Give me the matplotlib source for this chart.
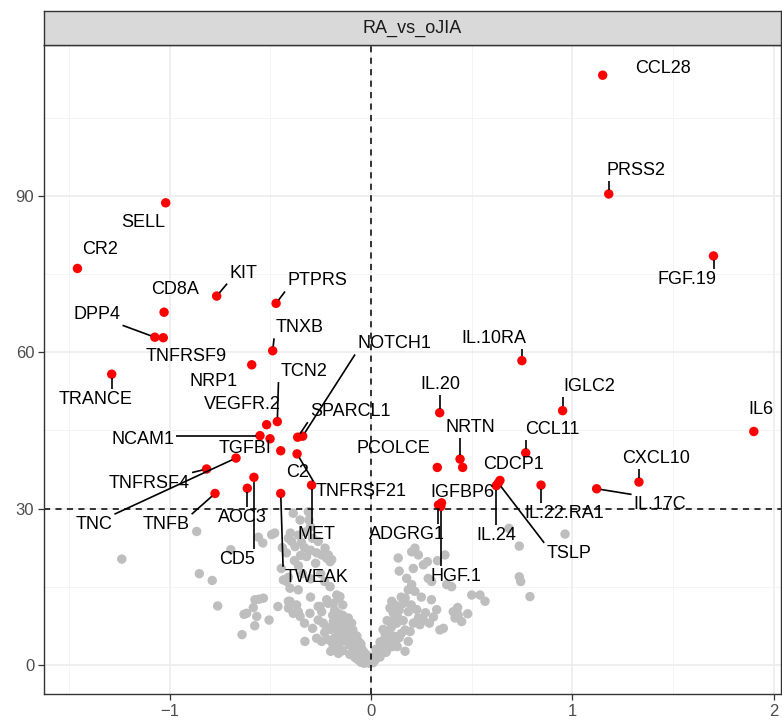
import matplotlib
matplotlib.use("Agg")
import matplotlib.pyplot as plt
import numpy as np

plt.rcParams['font.family'] = ['Liberation Sans', 'DejaVu Sans']

# ---- data -------------------------------------------------------------
facet_title = "RA_vs_oJIA"
fc_cut = 0.0
p_cut = 30.0

# non-significant proteins (logFC, -log10 p)
gray_x = [
    -1.237, -0.865, -0.852, -0.788, -0.761, -0.696, -0.630, -0.584, -0.556, -0.577,
    -0.640, -0.506, -0.462, -0.559, -0.537, -0.493, -0.478, -0.418, -0.410, -0.617,
    -0.567, -0.576, -0.534,
    -0.386, -0.352, -0.311, -0.308, -0.300, -0.410, -0.394, -0.377, -0.400, -0.360,
    -0.345, -0.330, -0.325, -0.290, -0.262, -0.245, -0.228, -0.212, -0.195, -0.275,
    -0.445, -0.410, -0.435, -0.402, -0.220, -0.203,
    -0.380, -0.350, -0.320, -0.300, -0.270, -0.360, -0.340, -0.300, -0.250, -0.230,
    -0.420, -0.440,
    -0.361, -0.203, -0.170, -0.162, -0.402, -0.369, -0.361, -0.262, -0.245, -0.262,
    -0.237, -0.328, -0.270, -0.245, -0.212, -0.187, -0.170, -0.162, -0.137, -0.120,
    -0.113, -0.096, -0.300, -0.220, -0.140, -0.330, -0.290, -0.386, -0.352, -0.303,
    -0.253, -0.212, -0.154, -0.187, -0.410,
    -0.150, -0.130, -0.120, -0.110, -0.100, -0.090, -0.085, -0.075, -0.070, -0.060,
    -0.055, -0.045, -0.040, -0.030, -0.025, -0.020, -0.012, -0.008, -0.170, -0.162,
    -0.140, -0.105, -0.080, -0.065, -0.050, -0.035, -0.095, -0.075, -0.060,
    -0.190, -0.180, -0.160, -0.150, -0.140, -0.130, -0.125, -0.115, -0.105, -0.100,
    -0.090, -0.080, -0.070, -0.065, -0.050, -0.045, -0.035, -0.020, -0.015, -0.190,
    -0.180, -0.155, -0.200, -0.220, -0.230, -0.200,
    0.003, 0.010, 0.020, 0.028, 0.036, 0.045, 0.053, 0.061, 0.069, 0.075,
    0.086, 0.090, 0.094, 0.103, 0.111, 0.119, 0.128, 0.135, 0.100, 0.115,
    0.130, 0.150, 0.169, 0.194, 0.185, 0.169, 0.060, 0.080, 0.040, 0.110,
    0.015, 0.025, 0.045, 0.050, 0.065, 0.070, 0.080, 0.095, 0.105, 0.120,
    0.140, 0.120, 0.140, 0.160, 0.170, 0.200, 0.210, 0.270, 0.290, 0.310,
    0.185, 0.227, 0.235, 0.260, 0.243, 0.326, 0.342, 0.359, 0.408, 0.417,
    0.433, 0.450, 0.177, 0.202, 0.185, 0.218, 0.284, 0.301, 0.376, 0.400,
    0.218, 0.235, 0.202, 0.135, 0.260, 0.367, 0.150, 0.160, 0.300, 0.250,
    0.140, 0.210, 0.280, 0.330,
    0.500, 0.541, 0.566, 0.685, 0.736, 0.963, 0.736, 0.743, 0.789, 0.430,
    0.480,
]
gray_y = [
    20.3, 25.6, 17.5, 16.2, 11.3, 22.1, 9.7, 11.0, 12.6, 7.5,
    5.8, 8.6, 11.2, 24.5, 23.4, 25.0, 25.3, 16.0, 12.2, 9.9,
    9.3, 12.5, 12.8,
    29.1, 27.8, 29.4, 27.8, 26.5, 24.3, 23.7, 22.7, 25.3, 24.9,
    23.5, 22.5, 25.5, 24.3, 23.7, 21.1, 22.4, 21.1, 20.2, 19.5,
    18.5, 16.8, 16.3, 14.7, 20.5, 19.8,
    20.0, 21.0, 20.8, 22.0, 21.5, 19.0, 17.5, 16.5, 17.5, 16.0,
    21.5, 22.5,
    14.4, 15.0, 13.4, 12.8, 12.2, 11.5, 10.2, 11.2, 10.2, 8.6,
    8.0, 4.5, 5.1, 4.5, 4.8, 8.3, 7.4, 6.4, 7.0, 8.3,
    9.0, 8.0, 13.0, 12.5, 11.5, 8.0, 7.0, 9.9, 9.3, 9.9,
    11.2, 11.8, 13.1, 11.8, 10.9,
    5.5, 4.8, 5.8, 3.9, 4.6, 3.2, 5.0, 2.8, 3.9, 2.2,
    3.3, 1.6, 2.6, 1.2, 2.0, 0.7, 1.2, 0.3, 3.2, 2.2,
    2.7, 2.0, 1.4, 1.0, 0.5, 0.3, 6.2, 5.6, 4.4,
    9.5, 10.5, 9.8, 8.8, 9.5, 8.4, 6.6, 7.5, 6.9, 5.8,
    6.7, 4.8, 5.5, 3.6, 4.0, 3.0, 2.4, 1.7, 0.9, 4.0,
    5.2, 4.2, 6.8, 7.2, 6.2, 2.6,
    1.3, 0.4, 0.9, 1.9, 2.6, 1.5, 3.8, 3.2, 5.1, 2.4,
    6.4, 4.2, 10.9, 12.2, 9.9, 11.5, 8.0, 9.0, 7.2, 5.5,
    3.5, 6.0, 6.7, 6.4, 4.5, 2.6, 6.8, 8.5, 3.0, 7.8,
    1.6, 3.0, 4.4, 2.2, 4.0, 6.0, 3.0, 5.0, 3.5, 4.6,
    5.2, 9.0, 10.5, 8.5, 12.8, 11.5, 8.0, 10.0, 8.0, 9.2,
    10.2, 10.6, 9.0, 8.6, 7.7, 10.6, 6.7, 7.0, 10.2, 9.0,
    9.6, 8.3, 16.6, 15.4, 14.4, 14.1, 16.6, 16.0, 15.4, 15.0,
    22.4, 21.1, 21.7, 20.5, 19.2, 21.1, 13.0, 11.8, 12.5, 13.0,
    18.0, 18.5, 19.8, 20.0,
    13.4, 13.4, 12.2, 26.2, 22.8, 25.1, 16.9, 16.0, 13.1, 11.0,
    9.8,
]

# significant proteins
sig_names = [
    "SELL", "CR2", "KIT", "PTPRS", "CD8A", "DPP4", "TNFRSF9", "TNXB", "NRP1",
    "TRANCE", "VEGFR.2", "TCN2", "NCAM1", "TGFBI", "SPARCL1", "NOTCH1", "C2",
    "TNFRSF21", "MET", "TNFRSF4", "TNC", "TNFB", "AOC3", "CD5", "TWEAK",
    "CCL28", "PRSS2", "FGF.19", "IL.10RA", "IL.20", "IGLC2", "IL6", "NRTN", "",
    "PCOLCE", "CCL11", "CDCP1", "IL.24", "TSLP", "IL.22.RA1", "IL.17C", "CXCL10",
    "IGFBP6", "ADGRG1", "HGF.1",
]
sig_x = [
    -1.019, -1.457, -0.766, -0.471, -1.027, -1.073, -1.031, -0.488, -0.592,
    -1.287, -0.518, -0.465, -0.551, -0.501, -0.364, -0.339, -0.448,
    -0.367, -0.295, -0.816, -0.670, -0.774, -0.614, -0.581, -0.448,
    1.150, 1.180, 1.700, 0.749, 0.341, 0.951, 1.900, 0.442, 0.455,
    0.329, 0.768, 0.640, 0.622, 0.632, 0.844, 1.120, 1.330,
    0.350, 0.335, 0.346,
]
sig_y = [
    88.7, 76.1, 70.8, 69.4, 67.7, 62.9, 62.8, 60.3, 57.6,
    55.8, 46.1, 46.7, 44.0, 43.4, 43.7, 43.9, 41.1,
    40.5, 34.5, 37.6, 39.7, 32.9, 33.9, 36.0, 32.9,
    113.2, 90.4, 78.5, 58.4, 48.4, 48.8, 44.8, 39.5, 37.9,
    37.9, 40.7, 35.4, 34.4, 34.9, 34.5, 33.8, 35.1,
    31.1, 30.7, 30.4,
]

# ---- label layout (repelled positions, leader-line flag) -------------
label_layout = {
    "SELL": (-1.131, 85.0, False), "CR2": (-1.347, 79.7, False),
    "KIT": (-0.635, 75.2, True), "PTPRS": (-0.268, 73.7, True),
    "CD8A": (-0.973, 72.0, False), "DPP4": (-1.360, 67.2, True),
    "TNFRSF9": (-0.915, 59.2, False), "TNXB": (-0.352, 64.7, True),
    "NRP1": (-0.783, 54.4, False), "TRANCE": (-1.365, 51.0, True),
    "VEGFR.2": (-0.638, 49.9, False), "TCN2": (-0.333, 56.3, True),
    "NCAM1": (-1.132, 43.2, True), "TGFBI": (-0.625, 41.6, False),
    "SPARCL1": (-0.104, 48.6, True), "NOTCH1": (0.114, 61.6, True),
    "C2": (-0.365, 36.9, False), "TNFRSF21": (-0.050, 33.2, True),
    "MET": (-0.273, 25.1, True), "TNFRSF4": (-1.099, 34.9, True),
    "TNC": (-1.375, 26.9, True), "TNFB": (-1.017, 26.9, True),
    "AOC3": (-0.640, 28.2, True), "CD5": (-0.667, 20.2, True),
    "TWEAK": (-0.268, 16.8, True),
    "CCL28": (1.449, 114.4, False), "PRSS2": (1.317, 94.9, True),
    "FGF.19": (1.567, 73.9, True), "IL.10RA": (0.610, 62.7, True),
    "IL.20": (0.344, 53.9, True), "IGLC2": (1.085, 53.4, True),
    "IL6": (1.935, 49.1, False), "NRTN": (0.494, 45.6, True),
    "PCOLCE": (0.112, 41.5, False), "CCL11": (0.898, 45.2, True),
    "CDCP1": (0.705, 38.4, False), "IL.24": (0.622, 24.8, True),
    "TSLP": (0.981, 21.4, True), "IL.22.RA1": (0.960, 29.0, True),
    "IL.17C": (1.434, 30.7, True), "CXCL10": (1.414, 39.7, True),
    "IGFBP6": (0.455, 33.1, False), "ADGRG1": (0.179, 25.0, True),
    "HGF.1": (0.421, 16.9, True),
}

x_ticks = [-1, 0, 1, 2]
y_ticks = [0, 30, 60, 90]

# ---- figure ---------------------------------------------------------
W, H, DPI = 782, 720, 100
fig = plt.figure(figsize=(W / DPI, H / DPI), dpi=DPI)
fig.patch.set_facecolor("white")

px_l, px_r, px_t, px_b = 44, 781, 45, 694
ax = fig.add_axes([px_l / W, (H - px_b) / H, (px_r - px_l) / W, (px_b - px_t) / H])
strip = fig.add_axes([px_l / W, (H - px_t) / H, (px_r - px_l) / W, 34 / H])

ax.set_xlim(-1.623, 2.035)
ax.set_ylim(-5.6, 119.0)

# grid
for xv in [-1.5, -0.5, 0.5, 1.5]:
    ax.axvline(xv, color="#F2F2F2", lw=0.6, zorder=0)
for yv in [15, 45, 75, 105]:
    ax.axhline(yv, color="#F2F2F2", lw=0.6, zorder=0)
for xv in x_ticks:
    ax.axvline(xv, color="#EBEBEB", lw=1.1, zorder=0)
for yv in y_ticks:
    ax.axhline(yv, color="#EBEBEB", lw=1.1, zorder=0)

ms = 46
ax.scatter(gray_x, gray_y, s=ms, color="#BEBEBE", edgecolors="none", zorder=2)
ax.scatter(sig_x, sig_y, s=ms, color="#FF0000", edgecolors="none", zorder=3)

ax.axvline(fc_cut, color="black", lw=1.1, ls=(0, (4, 3.5)), zorder=4)
ax.axhline(p_cut, color="black", lw=1.1, ls=(0, (4, 3.5)), zorder=4)

ax.set_xticks(x_ticks)
ax.set_xticklabels(["\u22121", "0", "1", "2"])
ax.set_yticks(y_ticks)
ax.tick_params(axis="both", colors="#333333", length=4, width=0.9,
               labelsize=12, labelcolor="#4D4D4D", pad=3)
for sp in ax.spines.values():
    sp.set_color("#333333")
    sp.set_linewidth(1.0)
    sp.set_zorder(6)

# facet strip
strip.set_facecolor("#D9D9D9")
strip.set_xticks([])
strip.set_yticks([])
for sp in strip.spines.values():
    sp.set_color("#333333")
    sp.set_linewidth(1.0)
strip.text(0.5, 0.5, facet_title, ha="center", va="center", fontsize=13,
           color="#1A1A1A", transform=strip.transAxes)

# labels
texts = []
for name, x, y in zip(sig_names, sig_x, sig_y):
    if not name:
        continue
    lx, ly, seg = label_layout[name]
    t = ax.text(lx, ly, name, ha="center", va="center", fontsize=13,
                color="black", zorder=7)
    texts.append((t, x, y, seg))

fig.canvas.draw()
renderer = fig.canvas.get_renderer()
inv = ax.transData.inverted()
r_pt = 4.2
pad = 2.0
for t, x, y, seg in texts:
    if not seg:
        continue
    bb = t.get_window_extent(renderer)
    px, py = ax.transData.transform((x, y))
    ex = min(max(px, bb.x0 - pad), bb.x1 + pad)
    ey = min(max(py, bb.y0 - pad), bb.y1 + pad)
    dx, dy = ex - px, ey - py
    d = np.hypot(dx, dy)
    if d <= r_pt:
        continue
    sx, sy = px + dx / d * r_pt, py + dy / d * r_pt
    (x0, y0), (x1, y1) = inv.transform([(sx, sy), (ex, ey)])
    ax.plot([x0, x1], [y0, y1], color="black", lw=1.2, zorder=5,
            solid_capstyle="butt")

fig.savefig("out.png", dpi=DPI, facecolor="white")
